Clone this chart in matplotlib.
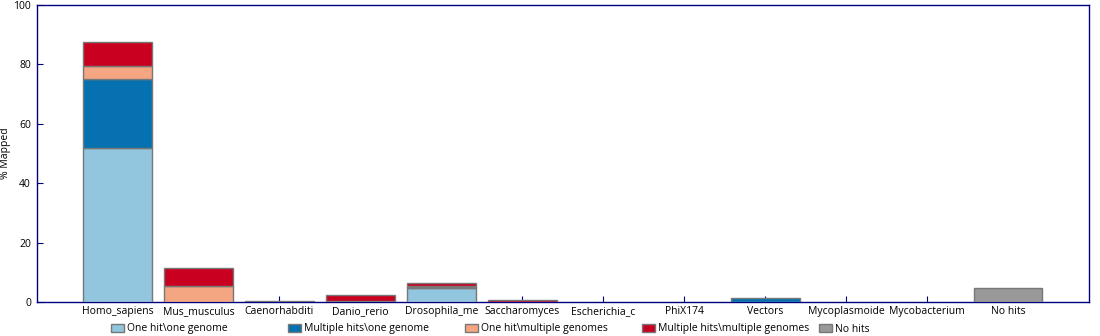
import matplotlib
matplotlib.use("Agg")
import matplotlib.pyplot as plt
from matplotlib.patches import Patch
import numpy as np

plt.rcParams['font.family'] = ['Open Sans', 'DejaVu Sans']

genomes = ["Homo_sapiens", "Mus_musculus", "Caenorhabditi", "Danio_rerio",
           "Drosophila_me", "Saccharomyces", "Escherichia_c", "PhiX174",
           "Vectors", "Mycoplasmoide", "Mycobacterium", "No hits"]

one_hit_one_genome = [51.9, 0.0, 0.2, 0.0, 4.7, 0.0, 0.0, 0.0, 0.0, 0.0, 0.0, 0.0]
multi_hits_one_genome = [23.2, 0.0, 0.0, 0.0, 0.4, 0.0, 0.0, 0.0, 1.3, 0.0, 0.0, 0.0]
one_hit_multi_genomes = [4.4, 5.4, 0.0, 0.2, 0.3, 0.0, 0.0, 0.0, 0.0, 0.0, 0.0, 0.0]
multi_hits_multi_genomes = [8.0, 6.0, 0.0, 2.1, 0.9, 0.6, 0.0, 0.0, 0.0, 0.0, 0.0, 0.0]
no_hits = [0, 0, 0, 0, 0, 0, 0, 0, 0, 0, 0, 4.6]

series = [
    ("One hit\\one genome", one_hit_one_genome, "#92c5de"),
    ("Multiple hits\\one genome", multi_hits_one_genome, "#0571b0"),
    ("One hit\\multiple genomes", one_hit_multi_genomes, "#f4a582"),
    ("Multiple hits\\multiple genomes", multi_hits_multi_genomes, "#ca0020"),
    ("No hits", no_hits, "#999999"),
]

navy = "#000080"
edge = "#777777"
fig = plt.figure(figsize=(11, 3.36), dpi=100)
ax = fig.add_axes([0.0332, 0.101, 0.9568, 0.884])

x = np.arange(1, len(genomes) + 1)
bottom = np.zeros(len(genomes))
for label, vals, color in series:
    vals = np.array(vals, dtype=float)
    nz = vals > 0
    ax.bar(x[nz], vals[nz], width=0.85, bottom=bottom[nz], color=color,
           edgecolor=edge, linewidth=1, zorder=3)
    bottom += vals

ax.set_xlim(0, len(genomes) + 1)
ax.set_ylim(0, 100)
ax.set_xticks(x)
ax.set_xticklabels(genomes, fontsize=7.5)
ax.set_yticks([0, 20, 40, 60, 80, 100])
ax.tick_params(axis='y', direction='in', length=4, color=navy, labelsize=7.5, pad=4)
ax.tick_params(axis='x', direction='in', length=4, color=navy, pad=3)
for s in ax.spines.values():
    s.set_color(navy)
    s.set_linewidth(1)
ax.set_ylabel("% Mapped", fontsize=7.5)
ax.yaxis.set_label_coords(-0.024, 0.5)

# legend entries sit at fixed spacing like the original
for i, (label, vals, color) in enumerate(series):
    xpos = (111 + 177 * i) / 1100
    fig.legend(handles=[Patch(facecolor=color, edgecolor=edge, label=label)],
               loc='center left', bbox_to_anchor=(xpos, 1 - 329 / 336),
               frameon=False, fontsize=7.5, handlelength=1.2, handleheight=0.8,
               handletextpad=0.35, borderpad=0, borderaxespad=0)

fig.savefig("out.png", dpi=100)
